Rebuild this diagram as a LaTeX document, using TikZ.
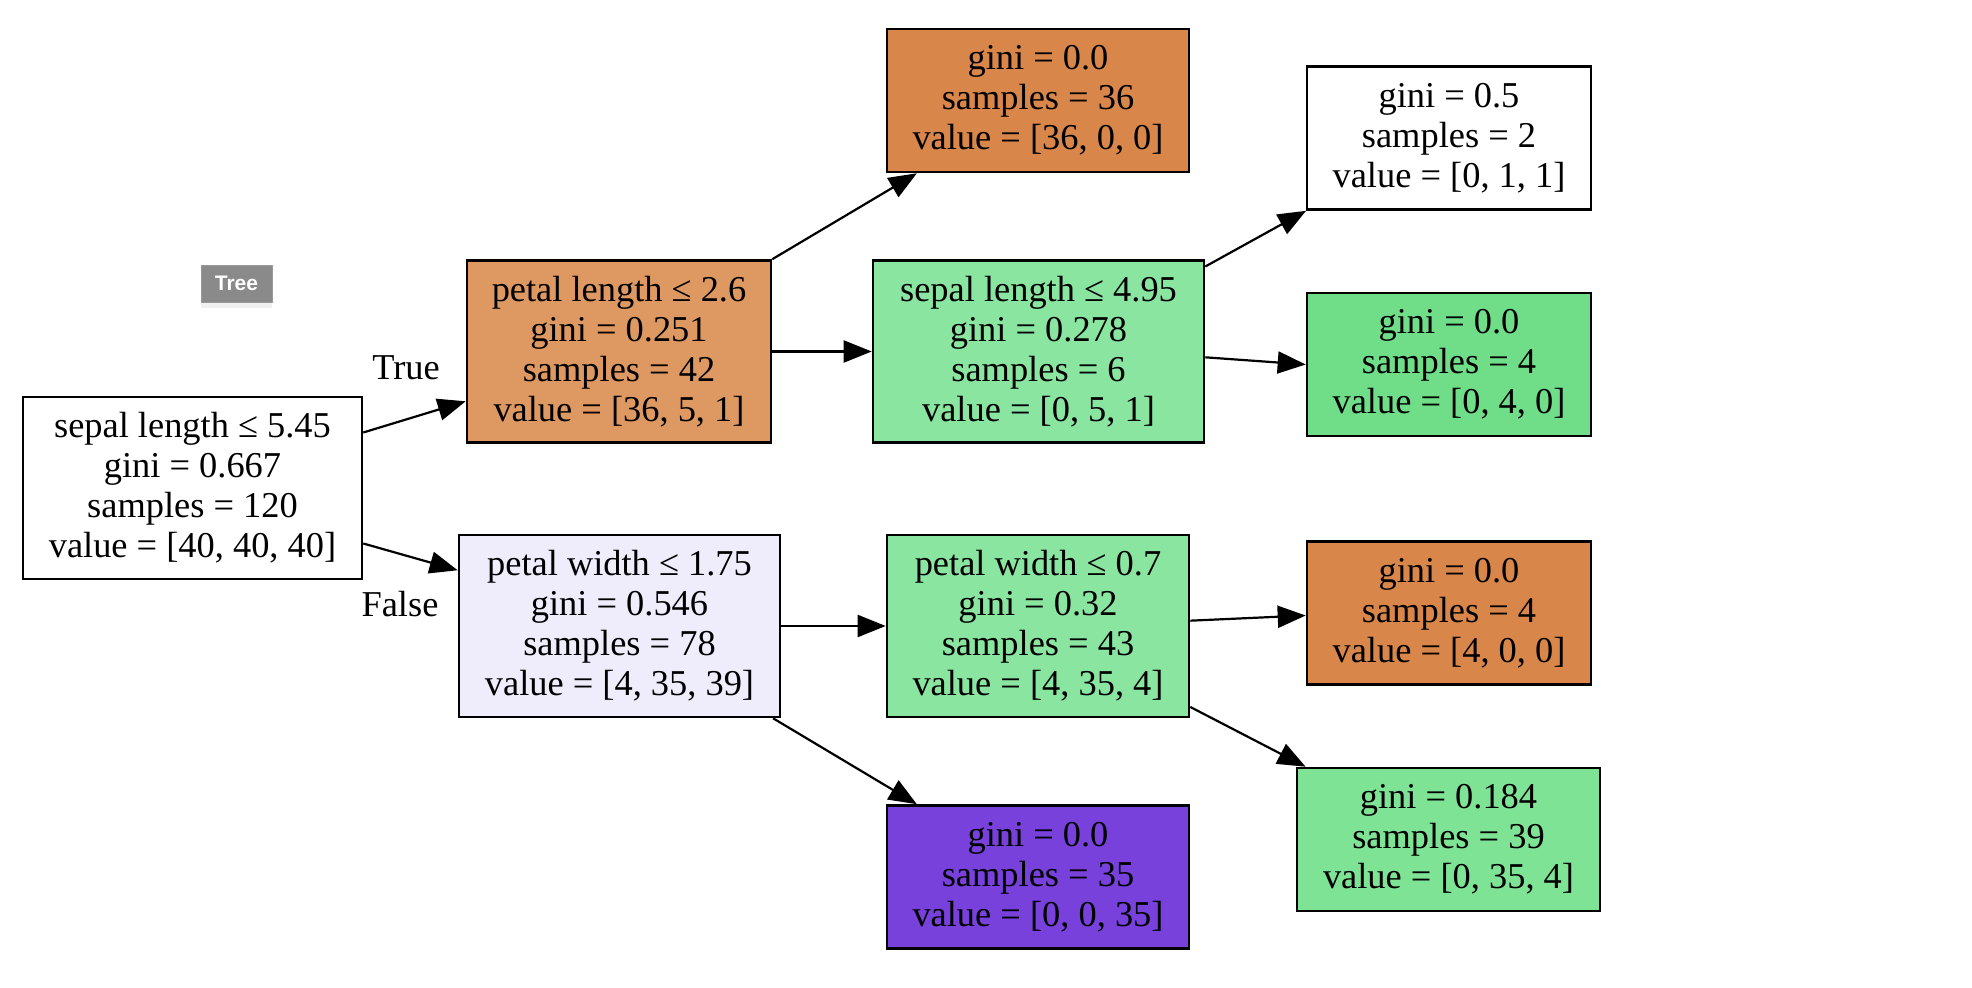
\documentclass[tikz,border=0pt]{standalone}
\usepackage{fontspec}
\setmainfont{Liberation Serif}
\setsansfont{Liberation Sans}
\usepackage{tikz}
\usetikzlibrary{arrows.meta,shadows}

\definecolor{leaforange}{HTML}{D8864A}
\definecolor{lightorange}{HTML}{DE9862}
\definecolor{lightgreen}{HTML}{89E5A0}
\definecolor{puregreen}{HTML}{70DE89}
\definecolor{midgreen}{HTML}{7FE396}
\definecolor{lavender}{HTML}{EFECFB}
\definecolor{leafpurple}{HTML}{7841DB}
\definecolor{btngray}{HTML}{8A8A8A}

\begin{document}
\begin{tikzpicture}[x=0.5pt, y=-0.5pt,
        box/.style={rectangle, draw, line width=1.3pt, minimum height=91pt, text centered, align=center, inner sep=2pt,
                    font=\fontsize{18.2}{20}\selectfont},
        leaf/.style={box, minimum height=71.5pt},
        edge/.style={-{Triangle[length=14pt, width=11pt]}, line width=1.1pt},
        lbl/.style={font=\fontsize{18.2}{20}\selectfont, inner sep=0pt},
    ]
        \useasboundingbox (0,0) rectangle (1972,988);

        % Button
        \node[rectangle, fill=btngray, draw=gray!80, minimum width=35.5pt, minimum height=18.5pt, inner sep=0pt,
              drop shadow={opacity=0.12, shadow xshift=0pt, shadow yshift=-3pt},
              text=white, font=\sffamily\bfseries\fontsize{10.5}{12}\selectfont] (btn) at (236.5,283.5) {Tree};

        % Depth 0-1
        \node[box, fill=white, minimum width=169.5pt] (root) at (192.5,488) {sepal length ≤ 5.45\\gini = 0.667\\samples = 120\\value = [40, 40, 40]};
        \node[box, fill=lightorange, minimum width=152pt] (pl) at (619,351.5) {petal length ≤ 2.6\\gini = 0.251\\samples = 42\\value = [36, 5, 1]};
        \node[box, fill=lavender, minimum width=160.5pt] (pw) at (619.5,626) {petal width ≤ 1.75\\gini = 0.546\\samples = 78\\value = [4, 35, 39]};
        \draw[edge] (root.18) -- (pl.198);
        \draw[edge] (root.342) -- (pw.161);
        \node[lbl] (true) at (406,368) {True};
        \node[lbl] (false) at (400,604) {False};

        % Depth 2
        \node[leaf, fill=leaforange, minimum width=151pt] (l1) at (1038,100.5) {gini = 0.0\\samples = 36\\value = [36, 0, 0]};
        \node[box, fill=lightgreen, minimum width=165.5pt] (sl) at (1038.5,351.5) {sepal length ≤ 4.95\\gini = 0.278\\samples = 6\\value = [0, 5, 1]};
        \node[box, fill=lightgreen, minimum width=151pt] (pw2) at (1038,626) {petal width ≤ 0.7\\gini = 0.32\\samples = 43\\value = [4, 35, 4]};
        \node[leaf, fill=leafpurple, minimum width=151pt] (l2) at (1038,877) {gini = 0.0\\samples = 35\\value = [0, 0, 35]};
        \draw[edge] (pl.north east) -- (l1.211);
        \draw[edge] (pl.east) -- (sl.west);
        \draw[edge] (pw.east) -- (pw2.west);
        \draw[edge] (pw.329) -- (l2.149);

        % Depth 3
        \node[leaf, fill=white, minimum width=142pt] (l3) at (1449,138) {gini = 0.5\\samples = 2\\value = [0, 1, 1]};
        \node[leaf, fill=puregreen, minimum width=142pt] (l4) at (1449,364.5) {gini = 0.0\\samples = 4\\value = [0, 4, 0]};
        \node[leaf, fill=leaforange, minimum width=142pt] (l5) at (1449,613) {gini = 0.0\\samples = 4\\value = [4, 0, 0]};
        \node[leaf, fill=midgreen, minimum width=151.5pt] (l6) at (1448.5,839.5) {gini = 0.184\\samples = 39\\value = [0, 35, 4]};
        \draw[edge] (sl.27) -- (l3.207);
        \draw[edge] (sl.358) -- (l4.180);
        \draw[edge] (pw2.2) -- (l5.181);
        \draw[edge] (pw2.332) -- (l6.153);
    \end{tikzpicture}
\end{document}
